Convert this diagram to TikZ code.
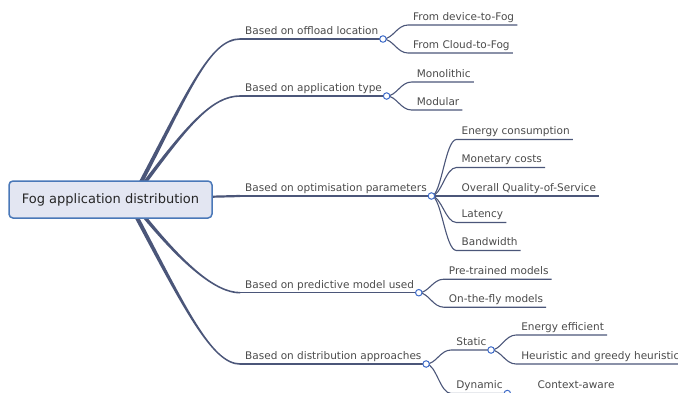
\documentclass[tikz,border=0pt]{standalone}
\usepackage{fontspec}
\setmainfont{DejaVu Sans}
\usetikzlibrary{calc}
\definecolor{conn}{HTML}{4B5679}
\definecolor{txtc}{HTML}{4A4A4A}
\definecolor{rootfill}{HTML}{E3E6F2}
\definecolor{rootdraw}{HTML}{4A78B8}
\definecolor{dotc}{HTML}{3E6BC8}
\newcommand\trunkfill[5]{\fill[conn] ($(#1)+(-2.3,0)$) .. controls ($(#2)+(-1.8,0)$) and ($(#3)+(0,-0.9*#5)$) .. ($(#4)+(0,-0.8*#5)$) -- ($(#4)+(0,0.8*#5)$) .. controls ($(#3)+(0,0.9*#5)$) and ($(#2)+(1.8,0)$) .. ($(#1)+(2.3,0)$) -- cycle;}
\newcommand\kidline[2]{\draw[kid] (#1) .. controls ($(#1)+(10,0)$) and ($(#2.south west)+(-13,0)$) .. ($(#2.south west)+(-2,0)$) -- (#2.south east);}
\begin{document}
\begin{tikzpicture}[x=1pt,y=-1pt,
  lbl/.style={anchor=south west,inner xsep=3pt,inner ysep=4.5pt,text depth=0pt,font=\fontsize{10.5}{12}\selectfont,text=txtc},
  uline/.style={draw=conn,line width=1.1pt},
  kid/.style={draw=conn,line width=1.1pt},
  dot/.style={circle,draw=dotc,fill=white,line width=1pt,minimum size=6.5pt,inner sep=0pt},
  rootbox/.style={draw=rootdraw,fill=rootfill,line width=1.5pt,rounded corners=4pt,minimum width=203pt,minimum height=37pt,font=\fontsize{13}{15}\selectfont,text=black!85}]
\useasboundingbox (0,0) rectangle (678,392);
\clip (0,0) rectangle (678,392);
% trunk coordinates
\coordinate (s1) at (139.5,185); \coordinate (p1) at (188.7,91); \coordinate (q1) at (210,39); \coordinate (e1) at (240,39);
\coordinate (s2) at (143,185); \coordinate (p2) at (187,126); \coordinate (q2) at (212,96); \coordinate (e2) at (240,96);
\coordinate (s3) at (200,197); \coordinate (e3) at (240,196);
\coordinate (s4) at (142,214); \coordinate (p4) at (182,263); \coordinate (q4) at (215,292.7); \coordinate (e4) at (240,292.7);
\coordinate (s5) at (135,214); \coordinate (p5) at (184.7,308); \coordinate (q5) at (212,364); \coordinate (e5) at (240,364);
\trunkfill{s1}{p1}{q1}{e1}{1}
\trunkfill{s2}{p2}{q2}{e2}{1}
\trunkfill{s4}{p4}{q4}{e4}{-1}
\trunkfill{s5}{p5}{q5}{e5}{-1}
\draw[conn,line width=2.2pt] (s3) -- (e3);
\node[rootbox] (root) at (110.5,199.5) {Fog application distribution};
% main branches
\node[lbl] (b1) at (242,39) {Based on offload location};
\node[lbl] (b2) at (242,96) {Based on application type};
\node[lbl] (b3) at (242,196) {Based on optimisation parameters};
\node[lbl] (b4) at (242,292.7) {Based on predictive model used};
\node[lbl] (b5) at (242,364) {Based on distribution approaches};
\foreach \i in {1,...,5} {
  \draw[uline] (e\i) -- (b\i.south east);
  \coordinate (d\i) at ($(b\i.south east)+(1.5,0)$);
}
% children
\node[lbl] (k11) at ($(d1)+(27,-14)$) {From device-to-Fog};
\node[lbl] (k12) at ($(d1)+(27,14)$) {From Cloud-to-Fog};
\node[lbl] (k21) at ($(d2)+(27,-14)$) {Monolithic};
\node[lbl] (k22) at ($(d2)+(27,14)$) {Modular};
\node[lbl] (k31) at ($(d3)+(27,-56.5)$) {Energy consumption};
\node[lbl] (k32) at ($(d3)+(27,-28.5)$) {Monetary costs};
\node[lbl] (k33) at ($(d3)+(27,0)$) {Overall Quality-of-Service};
\node[lbl] (k34) at ($(d3)+(27,26.5)$) {Latency};
\node[lbl] (k35) at ($(d3)+(27,54.5)$) {Bandwidth};
\node[lbl] (k41) at ($(d4)+(27,-13.5)$) {Pre-trained models};
\node[lbl] (k42) at ($(d4)+(27,14.5)$) {On-the-fly models};
\node[lbl] (k51) at ($(d5)+(27,-14)$) {Static};
\node[lbl] (k52) at ($(d5)+(27,29.5)$) {Dynamic};
\coordinate (ds) at ($(k51.south east)+(1.5,0)$);
\coordinate (dd) at ($(k52.south east)+(1.5,0)$);
\node[lbl] (k511) at ($(ds)+(27,-15)$) {Energy efficient};
\node[lbl] (k512) at ($(ds)+(27,14)$) {Heuristic and greedy heuristic};
\node[lbl] (k521) at ($(dd)+(27,0)$) {Context-aware};
\kidline{d1}{k11}\kidline{d1}{k12}
\kidline{d2}{k21}\kidline{d2}{k22}
\kidline{d3}{k31}\kidline{d3}{k32}\kidline{d3}{k33}\kidline{d3}{k34}\kidline{d3}{k35}
\kidline{d4}{k41}\kidline{d4}{k42}
\kidline{d5}{k51}\kidline{d5}{k52}
\kidline{ds}{k511}\kidline{ds}{k512}
\kidline{dd}{k521}
% dots
\foreach \d in {d1,d2,d3,d4,d5,ds,dd} { \node[dot] at (\d) {}; }
\end{tikzpicture}
\end{document}
